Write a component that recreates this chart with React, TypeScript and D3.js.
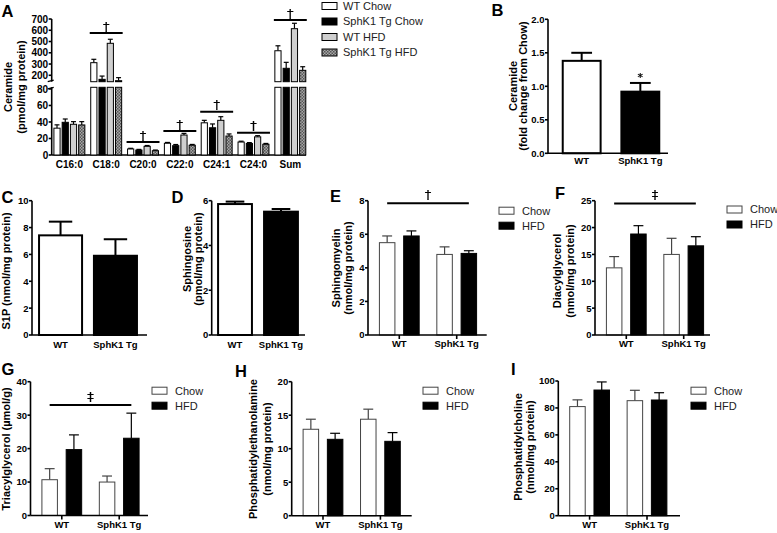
import React from "react";
import * as d3 from "d3";

const FONT = "Arial, 'Liberation Sans', Helvetica, sans-serif";

// ---------- Panel A: ceramide species ----------
const speciesA = ["C16:0", "C18:0", "C20:0", "C22:0", "C24:1", "C24:0", "Sum"];
const seriesA = ["WT Chow", "SphK1 Tg Chow", "WT HFD", "SphK1 Tg HFD"];
const wtChowA = [32.5, 312, 7.3, 14.2, 39, 15.7, 418];
const wtChowErrA = [4, 30, 0.8, 1, 3, 1, 44];
const tgChowA = [39.6, 164, 6, 11.3, 33, 14, 262];
const tgChowErrA = [4, 29, 0.8, 1.4, 4.6, 1, 53];
const wtHfdA = [37.2, 484, 10.5, 24.2, 42, 22, 614];
const wtHfdErrA = [3.2, 36, 1, 2, 4.4, 1.4, 48];
const tgHfdA = [36.4, 152, 5.2, 11.8, 23, 13, 244];
const tgHfdErrA = [4, 27, 0.8, 1, 2.5, 1, 32];
const sigLevelA = [NaN, 575, 15.7, 29, 52.4, 27, 691];
const lowerTicksA = [0, 20, 40, 60, 80];
const upperTicksA = [200, 300, 400, 500, 600, 700];
const lowerDomainA = [0, 82];
const upperDomainA = [143, 700];

// ---------- Panels B-D: genotype only ----------
const genotypes = ["WT", "SphK1 Tg"];
const ceramideFold = [1.38, 0.92];
const ceramideFoldErr = [0.12, 0.13];
const ticksB = [0, 0.5, 1, 1.5, 2];
const s1p = [7.42, 5.9];
const s1pErr = [1.02, 1.23];
const ticksC = [0, 2, 4, 6, 8, 10];
const sphingosine = [5.85, 5.51];
const sphingosineErr = [0.11, 0.12];
const ticksD = [0, 2, 4, 6];

// ---------- Panels E-I: genotype x diet ----------
const diets = ["Chow", "HFD"];
const smChow = [5.5, 4.8];
const smChowErr = [0.4, 0.45];
const smHfd = [5.9, 4.86];
const smHfdErr = [0.3, 0.16];
const ticksE = [0, 2, 4, 6, 8];
const dagChow = [12.5, 15.0];
const dagChowErr = [2.1, 3.0];
const dagHfd = [18.8, 16.6];
const dagHfdErr = [1.55, 1.7];
const ticksF = [0, 5, 10, 15, 20, 25];
const tagChow = [10.7, 10.0];
const tagChowErr = [3.3, 1.8];
const tagHfd = [19.7, 23.1];
const tagHfdErr = [4.4, 7.5];
const ticksG = [0, 10, 20, 30, 40];
const peChow = [12.9, 14.4];
const peChowErr = [1.5, 1.5];
const peHfd = [11.4, 11.1];
const peHfdErr = [0.9, 1.3];
const ticksH = [0, 5, 10, 15, 20];
const pcChow = [81, 85.4];
const pcChowErr = [5, 7.7];
const pcHfd = [93.3, 85.9];
const pcHfdErr = [6, 5.4];
const ticksI = [0, 20, 40, 60, 80, 100];

const AX = 1.6;

function Letter({ x, y, t }: any) {
  return (
    <text x={x} y={y} fontSize={16.5} fontWeight="bold" fontFamily={FONT}>
      {t}
    </text>
  );
}

function Mark({ x, y, t, fs = 13 }: any) {
  return (
    <g filter="url(#grayMark)">
      <text x={x} y={y} textAnchor="middle" fontSize={fs} fontFamily="'DejaVu Sans', Arial, sans-serif" fill="#000" stroke="#000" strokeWidth={0.25}>
        {t}
      </text>
    </g>
  );
}

function YLabel({ lines, xs, cy }: any) {
  return (
    <g>
      {lines.map((l: string, i: number) => (
        <text
          key={i}
          transform={`translate(${xs[i]},${cy}) rotate(-90)`}
          textAnchor="middle"
          fontSize={11}
          fontWeight="bold"
          fontFamily={FONT}
        >
          {l}
        </text>
      ))}
    </g>
  );
}

function YAxis({ x, scale, ticks, fmt, fs = 9.5 }: any) {
  const r = scale.range();
  return (
    <g>
      <line x1={x} x2={x} y1={r[0]} y2={r[1]} stroke="#000" strokeWidth={AX} />
      {ticks.map((t: number) => (
        <g key={t}>
          <line x1={x - 3} x2={x} y1={scale(t)} y2={scale(t)} stroke="#000" strokeWidth={AX} />
          <text x={x - 3.5} y={scale(t)} dy="0.36em" textAnchor="end" fontSize={fs} fontWeight="bold" fontFamily={FONT}>
            {fmt ? fmt(t) : t}
          </text>
        </g>
      ))}
    </g>
  );
}

function ErrBar({ cx, y0, y1, half, sw, color = "#000" }: any) {
  return (
    <g stroke={color} strokeWidth={sw}>
      <line x1={cx} x2={cx} y1={y0} y2={y1} />
      <line x1={cx - half} x2={cx + half} y1={y1} y2={y1} />
    </g>
  );
}

function PanelA() {
  const base = 155;
  const lowY = d3.scaleLinear().domain(lowerDomainA).range([155, 87.3]);
  const upY = d3.scaleLinear().domain(upperDomainA).range([81.7, 19]);
  const x = d3.scaleBand().domain(speciesA).range([51.7, 308]).paddingInner(0.16).paddingOuter(0.06);
  const xi = d3.scaleBand().domain(seriesA).range([0, x.bandwidth()]).paddingInner(0.25);
  const vals = [wtChowA, tgChowA, wtHfdA, tgHfdA];
  const errs = [wtChowErrA, tgChowErrA, wtHfdErrA, tgHfdErrA];
  const fills = ["#fff", "#000", "#cfcfcf", "url(#checkA)"];
  const yOf = (v: number) => (v <= lowerDomainA[1] ? lowY(v) : upY(v));
  const w = xi.bandwidth();
  const axisX = 51.7;
  return (
    <g>
      <Letter x={1.5} y={16.7} t="A" />
      <YLabel lines={["Ceramide", "(pmol/mg protein)"]} xs={[12, 24.5]} cy={87} />
      <YAxis x={axisX} scale={lowY} ticks={lowerTicksA} fs={10} />
      <YAxis x={axisX} scale={upY} ticks={upperTicksA} fs={10} />
      {/* axis break marks */}
      <line x1={axisX - 4} x2={axisX + 2} y1={81.7} y2={80.2} stroke="#000" strokeWidth={1.3} />
      <line x1={axisX - 4} x2={axisX + 2} y1={88.8} y2={87.3} stroke="#000" strokeWidth={1.3} />
      <line x1={axisX} x2={306} y1={base} y2={base} stroke="#000" strokeWidth={AX} />
      {speciesA.map((sp, i) => (
        <g key={sp}>
          {seriesA.map((s, k) => {
            const v = vals[k][i];
            const e = errs[k][i];
            const bx = (x(sp) as number) + (xi(s) as number);
            const cx = bx + w / 2;
            return (
              <g key={s}>
                <ErrBar cx={cx} y0={yOf(v)} y1={yOf(v + e)} half={w * 0.4} sw={1.2} />
                {v <= lowerDomainA[1] ? (
                  <rect x={bx} y={lowY(v)} width={w} height={base - lowY(v)} fill={fills[k]} stroke="#000" strokeWidth={1} />
                ) : (
                  <g>
                    <rect x={bx} y={87.3} width={w} height={base - 87.3} fill={fills[k]} stroke="#000" strokeWidth={1} />
                    <rect x={bx} y={upY(v)} width={w} height={81.7 - upY(v)} fill={fills[k]} stroke="#000" strokeWidth={1} />
                  </g>
                )}
              </g>
            );
          })}
          <text
            x={(x(sp) as number) + x.bandwidth() / 2}
            y={168.3}
            textAnchor="middle"
            fontSize={10}
            fontWeight="bold"
            fontFamily={FONT}
          >
            {sp}
          </text>
          {!isNaN(sigLevelA[i]) && (
            <g>
              <line
                x1={(x(sp) as number) + (xi(seriesA[0]) as number) - 1}
                x2={(x(sp) as number) + (xi(seriesA[3]) as number) + w + 1}
                y1={yOf(sigLevelA[i])}
                y2={yOf(sigLevelA[i])}
                stroke="#000"
                strokeWidth={2}
              />
              <Mark x={(x(sp) as number) + x.bandwidth() / 2} y={yOf(sigLevelA[i]) - 2.5} t="†" />
            </g>
          )}
        </g>
      ))}
      {seriesA.map((s, k) => (
        <g key={s}>
          <rect x={322} y={6 + k * 15.5 - 3.5} width={15} height={7} fill={fills[k]} stroke="#000" strokeWidth={1} />
          <text x={343} y={6 + k * 15.5} dy="0.36em" fontSize={11} fontFamily={FONT} fill="#222">
            {s}
          </text>
        </g>
      ))}
    </g>
  );
}

function SimplePanel({ letter, letterPos, labels, labelXs, labelCy, axisX, axisEnd, yTop, yBot, domainMax, ticks, fmt, vals, errs, range, pi, po, star, labelY }: any) {
  const y = d3.scaleLinear().domain([0, domainMax]).range([yBot, yTop]);
  const x = d3.scaleBand().domain(genotypes).range(range).paddingInner(pi).paddingOuter(po);
  const w = x.bandwidth();
  const fills = ["#fff", "#000"];
  return (
    <g>
      <Letter x={letterPos[0]} y={letterPos[1]} t={letter} />
      <YLabel lines={labels} xs={labelXs} cy={labelCy} />
      {genotypes.map((g, i) => {
        const bx = x(g) as number;
        return (
          <g key={g}>
            <ErrBar cx={bx + w / 2} y0={y(vals[i])} y1={y(vals[i] + errs[i])} half={w * 0.26} sw={2} />
            <rect x={bx + 1} y={y(vals[i])} width={w - 2} height={yBot - y(vals[i])} fill={fills[i]} stroke="#000" strokeWidth={2} />
            <text x={bx + w / 2} y={labelY} textAnchor="middle" fontSize={9.5} fontWeight="bold" fontFamily={FONT}>
              {g}
            </text>
          </g>
        );
      })}
      {star && <Mark x={(x(genotypes[1]) as number) + w / 2} y={y(vals[1] + errs[1]) - 2} t="*" fs={11} />}
      <YAxis x={axisX} scale={y} ticks={ticks} fmt={fmt} />
      <line x1={axisX} x2={axisEnd} y1={yBot} y2={yBot} stroke="#000" strokeWidth={AX} />
    </g>
  );
}

function GroupPanel({ letter, letterPos, labels, labelXs, labelCy, axisX, axisEnd, yTop, yBot, domainMax, ticks, chow, chowErr, hfd, hfdErr, sig, sigLevel, legX, legY }: any) {
  const y = d3.scaleLinear().domain([0, domainMax]).range([yBot, yTop]);
  const x = d3.scaleBand().domain(genotypes).range([axisX, axisX + 120]).paddingInner(0.29).paddingOuter(0.19);
  const xi = d3.scaleBand().domain(diets).range([0, x.bandwidth()]).paddingInner(0.32);
  const w = xi.bandwidth();
  const vals = [chow, hfd];
  const errs = [chowErr, hfdErr];
  const fills = ["#fff", "#000"];
  const cols = ["#444", "#000"];
  return (
    <g>
      <Letter x={letterPos[0]} y={letterPos[1]} t={letter} />
      <YLabel lines={labels} xs={labelXs} cy={labelCy} />
      {genotypes.map((g, i) => {
        const gx = x(g) as number;
        return (
          <g key={g}>
            {diets.map((d, k) => {
              const bx = gx + (xi(d) as number);
              const v = vals[k][i];
              return (
                <g key={d}>
                  <ErrBar cx={bx + w / 2} y0={y(v)} y1={y(v + errs[k][i])} half={w * 0.3} sw={1.2} color={cols[k]} />
                  <rect x={bx + 0.5} y={y(v)} width={w - 1} height={yBot - y(v)} fill={fills[k]} stroke={cols[k]} strokeWidth={1} />
                </g>
              );
            })}
            <line x1={gx + x.bandwidth() / 2} x2={gx + x.bandwidth() / 2} y1={yBot} y2={yBot + 4} stroke="#000" strokeWidth={AX} />
            <text x={gx + x.bandwidth() / 2} y={yBot + 12} textAnchor="middle" fontSize={9.5} fontWeight="bold" fontFamily={FONT}>
              {g}
            </text>
          </g>
        );
      })}
      {sig && (
        <g>
          <line
            x1={(x(genotypes[0]) as number) + (xi(diets[0]) as number) + w / 2}
            x2={(x(genotypes[1]) as number) + (xi(diets[1]) as number) + w / 2}
            y1={y(sigLevel)}
            y2={y(sigLevel)}
            stroke="#000"
            strokeWidth={2}
          />
          <Mark x={axisX + 60} y={y(sigLevel) - 4} t={sig} />
        </g>
      )}
      <YAxis x={axisX} scale={y} ticks={ticks} />
      <line x1={axisX} x2={axisEnd} y1={yBot} y2={yBot} stroke="#000" strokeWidth={AX} />
      {diets.map((d, k) => (
        <g key={d}>
          <rect x={legX} y={legY + k * 15 - 3.5} width={15} height={7} fill={fills[k]} stroke={cols[k]} strokeWidth={1} />
          <text x={legX + 23} y={legY + k * 15} dy="0.36em" fontSize={11} fontFamily={FONT} fill="#222">
            {d}
          </text>
        </g>
      ))}
    </g>
  );
}

export default function App() {
  return (
    <svg
      width={777}
      height={533}
      viewBox="0 0 777 533"
      style={{ position: "absolute", left: 0, top: 0, background: "#fff" }}
      fontFamily={FONT}
    >
      <defs>
        <pattern id="checkA" width={3} height={3} patternUnits="userSpaceOnUse">
          <rect width={3} height={3} fill="#a8a8a8" />
          <rect width={1.5} height={1.5} fill="#555" />
          <rect x={1.5} y={1.5} width={1.5} height={1.5} fill="#555" />
        </pattern>
        <filter id="grayMark" x="-50%" y="-50%" width="200%" height="200%">
          <feColorMatrix type="saturate" values="0" />
        </filter>
      </defs>
      <rect width={777} height={533} fill="#fff" />
      <PanelA />
      <SimplePanel
        letter="B"
        letterPos={[491.5, 16]}
        labels={["Ceramide", "(fold change from Chow)"]}
        labelXs={[516.5, 527]}
        labelCy={86}
        axisX={548}
        axisEnd={668}
        yTop={19.3}
        yBot={153.3}
        domainMax={2}
        ticks={ticksB}
        fmt={(t: number) => t.toFixed(1)}
        vals={ceramideFold}
        errs={ceramideFoldErr}
        range={[550, 672]}
        pi={0.32}
        po={0.2}
        star={true}
        labelY={164}
      />
      <SimplePanel
        letter="C"
        letterPos={[1.5, 202.7]}
        labels={["S1P (nmol/mg protein)"]}
        labelXs={[9.5]}
        labelCy={271}
        axisX={32}
        axisEnd={147}
        yTop={200.7}
        yBot={335}
        domainMax={10}
        ticks={ticksC}
        vals={s1p}
        errs={s1pErr}
        range={[32, 144]}
        pi={0.18}
        po={0.11}
        labelY={348}
      />
      <SimplePanel
        letter="D"
        letterPos={[171.5, 202.7]}
        labels={["Sphingosine", "(pmol/mg protein)"]}
        labelXs={[190.5, 201.5]}
        labelCy={259}
        axisX={211.7}
        axisEnd={305}
        yTop={200.7}
        yBot={335}
        domainMax={6}
        ticks={ticksD}
        vals={sphingosine}
        errs={sphingosineErr}
        range={[211.7, 304.3]}
        pi={0.22}
        po={0.117}
        labelY={348}
      />
      <GroupPanel
        letter="E"
        letterPos={[330, 201.7]}
        labels={["Sphingomyelin", "(nmol/mg protein)"]}
        labelXs={[340, 352]}
        labelCy={268}
        axisX={368}
        axisEnd={486.7}
        yTop={200.7}
        yBot={335}
        domainMax={8}
        ticks={ticksE}
        chow={smChow}
        chowErr={smChowErr}
        hfd={smHfd}
        hfdErr={smHfdErr}
        sig="†"
        sigLevel={7.85}
        legX={499}
        legY={210.7}
      />
      <GroupPanel
        letter="F"
        letterPos={[555, 199.3]}
        labels={["Diacylglycerol", "(nmol/mg protein)"]}
        labelXs={[561, 574]}
        labelCy={271}
        axisX={595}
        axisEnd={710}
        yTop={200.7}
        yBot={335}
        domainMax={25}
        ticks={ticksF}
        chow={dagChow}
        chowErr={dagChowErr}
        hfd={dagHfd}
        hfdErr={dagHfdErr}
        sig="‡"
        sigLevel={24.5}
        legX={727}
        legY={209.5}
      />
      <GroupPanel
        letter="G"
        letterPos={[1.5, 375]}
        labels={["Triacylglycerol (µmol/g)"]}
        labelXs={[10]}
        labelCy={449}
        axisX={30.5}
        axisEnd={148}
        yTop={381.7}
        yBot={515.5}
        domainMax={40}
        ticks={ticksG}
        chow={tagChow}
        chowErr={tagChowErr}
        hfd={tagHfd}
        hfdErr={tagHfdErr}
        sig="‡"
        sigLevel={33}
        legX={152}
        legY={390.7}
      />
      <GroupPanel
        letter="H"
        letterPos={[235, 376.7]}
        labels={["Phosphatidylethanolamine", "(nmol/mg protein)"]}
        labelXs={[257, 270.5]}
        labelCy={449}
        axisX={291.7}
        axisEnd={411.7}
        yTop={381.7}
        yBot={515.7}
        domainMax={20}
        ticks={ticksH}
        chow={peChow}
        chowErr={peChowErr}
        hfd={peHfd}
        hfdErr={peHfdErr}
        legX={423}
        legY={390.7}
      />
      <GroupPanel
        letter="I"
        letterPos={[511, 375]}
        labels={["Phosphatidylcholine", "(nmol/mg protein)"]}
        labelXs={[522, 534]}
        labelCy={447}
        axisX={558.3}
        axisEnd={680}
        yTop={381}
        yBot={515.7}
        domainMax={100}
        ticks={ticksI}
        chow={pcChow}
        chowErr={pcChowErr}
        hfd={pcHfd}
        hfdErr={pcHfdErr}
        legX={691}
        legY={390.7}
      />
    </svg>
  );
}
